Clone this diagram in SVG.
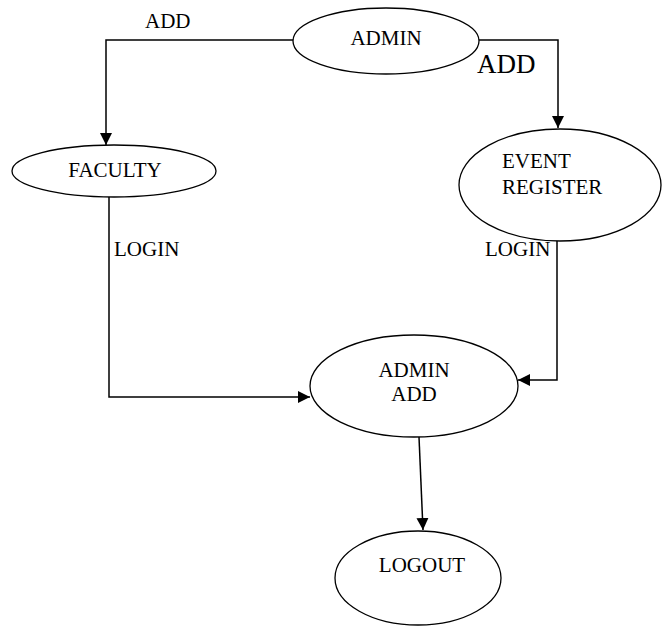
<svg xmlns="http://www.w3.org/2000/svg" width="667" height="628" viewBox="0 0 667 628">
<defs>
<marker id="arr" viewBox="0 0 10 10" refX="10" refY="5" markerWidth="12" markerHeight="12" markerUnits="userSpaceOnUse" orient="auto">
<path d="M0,0 L10,5 L0,10 z" fill="#000"/>
</marker>
<style>
.n{fill:#fff;stroke:#000;stroke-width:1.3}
.t{font-family:"Liberation Serif","Times New Roman",serif;font-size:21px;fill:#000}
.c{fill:none;stroke:#000;stroke-width:1.5}
</style>
</defs>
<rect width="667" height="628" fill="#fff"/>
<g id="connectors">
<polyline class="c" points="294,40 106,40 106,145" marker-end="url(#arr)"/>
<polyline class="c" points="479,40 558,40 558,128" marker-end="url(#arr)"/>
<polyline class="c" points="109,197 109,397 310,397" marker-end="url(#arr)"/>
<polyline class="c" points="557,240 557,380 518,380" marker-end="url(#arr)"/>
<line class="c" x1="419" y1="437" x2="423" y2="530" marker-end="url(#arr)"/>
<text class="t" x="145" y="28">ADD</text>
<text class="t" x="477" y="73" style="font-size:27px">ADD</text>
<text class="t" x="114" y="256">LOGIN</text>
<text class="t" x="485" y="256">LOGIN</text>
</g>
<g id="admin">
<ellipse class="n" cx="386" cy="41" rx="93" ry="33"/>
<text class="t" x="386" y="45" text-anchor="middle">ADMIN</text>
</g>
<g id="faculty">
<ellipse class="n" cx="114" cy="171" rx="102" ry="26"/>
<text class="t" x="115" y="177" text-anchor="middle">FACULTY</text>
</g>
<g id="event-register">
<ellipse class="n" cx="560" cy="185" rx="101" ry="56"/>
<text class="t" x="502" y="168">EVENT</text>
<text class="t" x="502" y="194">REGISTER</text>
</g>
<g id="admin-add">
<ellipse class="n" cx="414" cy="386" rx="104" ry="51"/>
<text class="t" x="414" y="377" text-anchor="middle">ADMIN</text>
<text class="t" x="414" y="401" text-anchor="middle">ADD</text>
</g>
<g id="logout">
<ellipse class="n" cx="418" cy="578" rx="83" ry="47"/>
<text class="t" x="422" y="572" text-anchor="middle">LOGOUT</text>
</g>
</svg>
